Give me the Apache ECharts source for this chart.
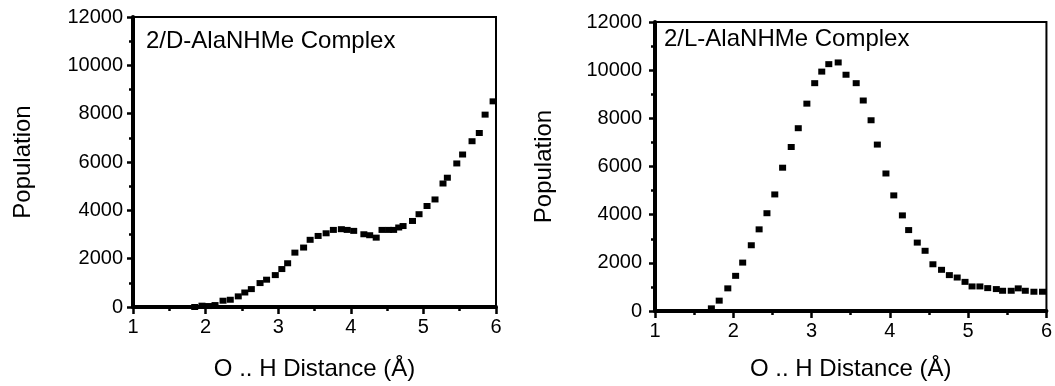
<!DOCTYPE html>
<html>
<head>
<meta charset="utf-8">
<script src="https://cdn.jsdelivr.net/npm/echarts@6/dist/echarts.min.js"></script>
<style>html,body{margin:0;padding:0;background:#fff}#c{width:1055px;height:386px}</style>
</head>
<body>
<div id="c"></div>
<script>
// Left panel: 2/D-AlaNHMe complex
const dX = [1.85,1.95,2.04,2.13,2.24,2.34,2.45,2.54,2.63,2.75,2.84,2.96,3.05,3.13,3.23,3.35,3.44,3.55,3.66,3.76,3.87,3.95,4.04,4.18,4.26,4.35,4.43,4.52,4.59,4.66,4.72,4.85,4.94,5.05,5.16,5.27,5.33,5.46,5.54,5.67,5.77,5.85,5.96];
const dY = [0,55,40,80,260,300,440,600,740,990,1130,1320,1570,1810,2250,2460,2780,2940,3050,3190,3220,3190,3150,3010,2970,2870,3190,3190,3190,3290,3350,3560,3840,4180,4450,5110,5350,5940,6310,6860,7200,7960,8510];
// Right panel: 2/L-AlaNHMe complex
const lX = [1.72,1.82,1.93,2.03,2.12,2.23,2.33,2.43,2.53,2.63,2.74,2.83,2.94,3.04,3.13,3.22,3.34,3.44,3.57,3.66,3.76,3.84,3.95,4.05,4.16,4.24,4.35,4.45,4.55,4.66,4.76,4.86,4.96,5.05,5.15,5.25,5.36,5.44,5.55,5.64,5.73,5.84,5.95];
const lY = [110,430,940,1460,2010,2730,3390,4060,4840,5950,6810,7590,8610,9460,9940,10250,10320,9810,9460,8740,7920,6910,5710,4800,3970,3360,2840,2500,1940,1710,1490,1390,1210,1020,1020,950,910,840,840,940,840,800,800];
const panelTitles = ['2/D-AlaNHMe Complex', '2/L-AlaNHMe Complex'];
const yName = 'Population';
const xName = 'O .. H Distance (\u00C5)';

const FONT = '"Liberation Sans", Arial, Helvetica, sans-serif';
const chart = echarts.init(document.getElementById('c'), null, {renderer: 'canvas'});

function xAxis(gi, gap) {
  return {
    type: 'value', gridIndex: gi, min: 1, max: 6, interval: 1,
    name: xName, nameLocation: 'middle', nameGap: gap,
    nameTextStyle: {fontFamily: FONT, fontSize: 24, color: '#000'},
    axisLine: {show: true, onZero: false, lineStyle: {color: '#000', width: 4}},
    axisTick: {show: true, inside: false, length: 7, lineStyle: {color: '#000', width: 2.5}},
    minorTick: {show: true, splitNumber: 2, length: 4, lineStyle: {color: '#000', width: 2.5}},
    axisLabel: {fontFamily: FONT, fontSize: 20, color: '#000', margin: 10, formatter: v => String(v)},
    splitLine: {show: false}, z: 5
  };
}
function yAxis(gi, gap, lm) {
  return {
    type: 'value', gridIndex: gi, min: 0, max: 12000, interval: 2000,
    name: yName, nameLocation: 'middle', nameGap: gap,
    nameTextStyle: {fontFamily: FONT, fontSize: 24, color: '#000'},
    axisLine: {show: true, onZero: false, lineStyle: {color: '#000', width: 4}},
    axisTick: {show: true, inside: false, length: 6, lineStyle: {color: '#000', width: 2.5}},
    minorTick: {show: true, splitNumber: 2, length: 4, lineStyle: {color: '#000', width: 2.5}},
    axisLabel: {fontFamily: FONT, fontSize: 20, color: '#000', margin: lm, formatter: v => String(v)},
    splitLine: {show: false}, z: 5
  };
}
function pts(xs, ys) { return xs.map((x, i) => [x, ys[i]]); }

chart.setOption({
  animation: false,
  backgroundColor: '#fff',
  title: [
    {text: panelTitles[0], left: 146, top: 29, padding: 0,
     textStyle: {fontFamily: FONT, fontSize: 24, fontWeight: 'normal', color: '#000'}},
    {text: panelTitles[1], left: 664, top: 27, padding: 0,
     textStyle: {fontFamily: FONT, fontSize: 24, fontWeight: 'normal', color: '#000'}}
  ],
  grid: [
    {left: 133, top: 17, width: 363, height: 291, show: true, borderColor: '#000', borderWidth: 2, backgroundColor: 'transparent'},
    {left: 655, top: 22, width: 396, height: 290, show: true, borderColor: '#000', borderWidth: 2, backgroundColor: 'transparent'}
  ],
  xAxis: [xAxis(0, 50), xAxis(1, 46)],
  yAxis: [yAxis(0, 98, 10), yAxis(1, 99, 13)],
  series: [
    {type: 'scatter', xAxisIndex: 0, yAxisIndex: 0, symbol: 'rect', symbolSize: [7, 6],
     itemStyle: {color: '#000', opacity: 1}, data: pts(dX, dY)},
    {type: 'scatter', xAxisIndex: 1, yAxisIndex: 1, symbol: 'rect', symbolSize: [7, 6],
     itemStyle: {color: '#000', opacity: 1}, data: pts(lX, lY)}
  ]
});
</script>
</body>
</html>
